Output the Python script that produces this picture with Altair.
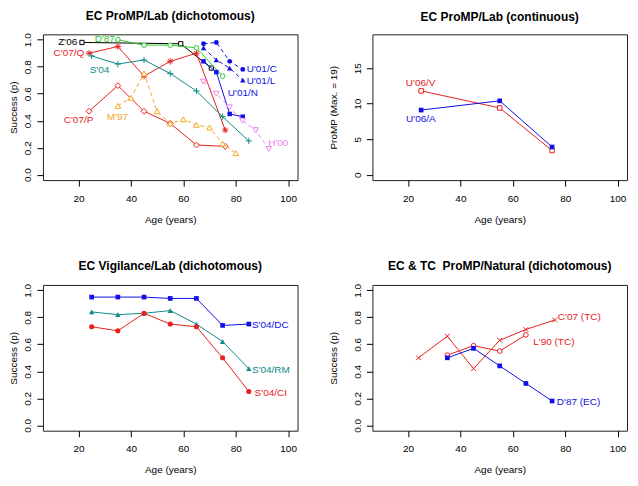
import altair as alt
import pandas as pd

FONT = "Liberation Sans"
RED = "#E8201E"
BLUE = "#1010E6"
GREEN = "#2ECC2E"
TEAL = "#108A8A"
ORANGE = "#F7A521"
VIOLET = "#EE82EE"
BLACK = "#000000"

PLUS = "M-1,0L1,0M0,-1L0,1"
CROSS = "M-0.8,-0.8L0.8,0.8M-0.8,0.8L0.8,-0.8"
STAR = "M-1,0L1,0M0,-1L0,1M-0.7,-0.7L0.7,0.7M-0.7,0.7L0.7,-0.7"

# ---------------- data ----------------
AGE_TICKS = [20, 40, 60, 80, 100]
P_TICKS = [0.0, 0.2, 0.4, 0.6, 0.8, 1.0]
PROMP_TICKS = [0, 5, 10, 15]

# Panel 1: EC ProMP/Lab (dichotomous)
z06_x = [21.3, 59, 70.7]
z06_y = [0.98, 0.97, 0.79]
d87_x = [35, 45, 55, 65, 75]
d87_y = [1.00, 0.96, 0.96, 0.94, 0.73]
c07q_x = [24, 35, 45, 55, 65, 76]
c07q_y = [0.90, 0.95, 0.73, 0.84, 0.90, 0.33]
s04_x = [25, 35, 45, 55, 65, 75, 85]
s04_y = [0.88, 0.82, 0.85, 0.75, 0.62, 0.43, 0.25]
c07p_x = [24, 35, 45, 55, 65, 76]
c07p_y = [0.47, 0.66, 0.47, 0.38, 0.22, 0.21]
m97_x = [35, 40, 45, 50, 55, 60, 65, 70, 75, 80]
m97_y = [0.51, 0.57, 0.75, 0.47, 0.38, 0.41, 0.37, 0.35, 0.23, 0.16]
u01_x = [67.7, 72.6, 77.7, 82.7]
u01c_y = [0.97, 0.98, 0.84, 0.78]
u01l_y = [0.94, 0.85, 0.79, 0.70]
u01n_y = [0.84, 0.76, 0.45, 0.43]
h00_x = [67.6, 72.6, 77.6, 82.6, 87.6, 92.6]
h00_y = [0.69, 0.60, 0.50, 0.40, 0.33, 0.19]

# Panel 2: EC ProMP/Lab (continuous)
u06_x = [25, 55, 75]
u06v_y = [11.8, 9.4, 3.4]
u06a_y = [9.1, 10.4, 3.9]

# Panel 3: EC Vigilance/Lab (dichotomous)
s04v_x = [25, 35, 45, 55, 65, 75, 85]
s04dc_y = [0.95, 0.95, 0.95, 0.94, 0.94, 0.74, 0.75]
s04rm_y = [0.84, 0.82, 0.83, 0.85, 0.75, 0.62, 0.42]
s04ci_y = [0.73, 0.70, 0.83, 0.75, 0.73, 0.50, 0.25]

# Panel 4: EC & TC ProMP/Natural (dichotomous)
c07tc_x = [24, 35, 45, 55, 65, 76]
c07tc_y = [0.50, 0.66, 0.42, 0.63, 0.71, 0.78]
l90_x = [35, 45, 55, 65]
l90_y = [0.52, 0.59, 0.55, 0.67]
d87ec_x = [35, 45, 55, 65, 75]
d87ec_y = [0.50, 0.57, 0.44, 0.31, 0.18]

# ---------------- helpers ----------------
W, H = 255, 146


def panel(series, labels, title, ytitle, ydomain, yticks, yfmt, ytitlepad):
    xenc = alt.X(
        "x:Q",
        scale=alt.Scale(domain=[6.4, 103.6], nice=False, zero=False),
        axis=alt.Axis(
            values=AGE_TICKS, tickSize=6, labelPadding=7, titlePadding=11,
            domain=False, grid=False, labelFontSize=10, titleFontSize=10,
            labelFont=FONT, titleFont=FONT, labelColor=BLACK, titleColor=BLACK,
            tickColor=BLACK, titleFontWeight="normal", labelFlush=False,
            labelOverlap=False,
        ),
        title="Age (years)",
    )
    yenc = alt.Y(
        "y:Q",
        scale=alt.Scale(domain=ydomain, nice=False, zero=False),
        axis=alt.Axis(
            values=yticks, format=yfmt, labelAngle=-90, labelAlign="center",
            labelBaseline="bottom", tickSize=6, labelPadding=4,
            titlePadding=ytitlepad, domain=False, grid=False,
            labelFontSize=10, titleFontSize=10, labelFont=FONT, titleFont=FONT,
            labelColor=BLACK, titleColor=BLACK, tickColor=BLACK,
            titleFontWeight="normal", labelFlush=False, labelOverlap=False,
        ),
        title=ytitle,
    )
    layers = []
    for s in series:
        df = pd.DataFrame({"x": s["x"], "y": s["y"]})
        lk = dict(color=s["color"], strokeWidth=1)
        if s.get("dash"):
            lk["strokeDash"] = [4, 3]
        layers.append(alt.Chart(df).mark_line(**lk).encode(x=xenc, y=yenc))
        pk = dict(shape=s["shape"], size=s["size"], strokeWidth=1, opacity=1)
        if s["fill"] == "solid":
            pk.update(filled=True, color=s["color"])
        elif s["fill"] == "open":
            pk.update(filled=True, fill="white", stroke=s["color"])
        else:
            pk.update(filled=False, color=s["color"])
        layers.append(alt.Chart(df).mark_point(**pk).encode(x=xenc, y=yenc))
    for text, lx, ly, align, color in labels:
        df = pd.DataFrame({"x": [lx], "y": [ly], "t": [text]})
        layers.append(
            alt.Chart(df)
            .mark_text(align=align, baseline="middle", color=color,
                       fontSize=10, font=FONT)
            .encode(x=xenc, y=yenc, text="t:N")
        )
    return alt.layer(*layers).properties(
        width=W, height=H,
        title=alt.TitleParams(title, fontSize=12, font=FONT, fontWeight="bold",
                              offset=10, anchor="middle", frame="group",
                              color=BLACK),
    )


def S(x, y, color, shape, fill, size, dash=False):
    return dict(x=x, y=y, color=color, shape=shape, fill=fill, size=size, dash=dash)


p1 = panel(
    [
        S(z06_x, z06_y, BLACK, "square", "open", 18),
        S(d87_x, d87_y, GREEN, "circle", "open", 22),
        S(c07q_x, c07q_y, RED, STAR, "none", 40),
        S(s04_x, s04_y, TEAL, PLUS, "none", 40),
        S(c07p_x, c07p_y, RED, "diamond", "open", 34),
        S(m97_x, m97_y, ORANGE, "triangle-up", "open", 32, dash=True),
        S(u01_x, u01c_y, BLUE, "circle", "solid", 24, dash=True),
        S(u01_x, u01l_y, BLUE, "triangle-up", "solid", 30, dash=True),
        S(u01_x, u01n_y, BLUE, "square", "solid", 20),
        S(h00_x, h00_y, VIOLET, "triangle-down", "open", 32, dash=True),
    ],
    [
        ("Z'06", 19.5, 0.985, "right", BLACK),
        ("D'87", 30, 1.005, "center", GREEN),
        ("C'07/Q", 22.2, 0.90, "right", RED),
        ("S'04", 28, 0.778, "center", TEAL),
        ("C'07/P", 20, 0.405, "center", RED),
        ("M'97", 34.8, 0.43, "center", ORANGE),
        ("U'01/C", 84.2, 0.785, "left", BLUE),
        ("U'01/L", 84.2, 0.694, "left", BLUE),
        ("U'01/N", 77, 0.602, "left", BLUE),
        ("H'00", 92.4, 0.236, "left", VIOLET),
    ],
    "EC ProMP/Lab (dichotomous)", "Success (p)", [-0.04, 1.04], P_TICKS, ".1f", 4,
)

p2 = panel(
    [
        S(u06_x, u06v_y, RED, "square", "open", 20),
        S(u06_x, u06a_y, BLUE, "square", "solid", 22),
    ],
    [
        ("U'06/V", 24.8, 12.85, "center", RED),
        ("U'06/A", 24.9, 7.8, "center", BLUE),
    ],
    "EC ProMP/Lab (continuous)", "ProMP (Max. = 19)", [-0.76, 19.76],
    PROMP_TICKS, "d", 14,
)

p3 = panel(
    [
        S(s04v_x, s04dc_y, BLUE, "square", "solid", 22),
        S(s04v_x, s04rm_y, TEAL, "triangle-up", "solid", 30),
        S(s04v_x, s04ci_y, RED, "circle", "solid", 26),
    ],
    [
        ("S'04/DC", 86.2, 0.745, "left", BLUE),
        ("S'04/RM", 86.2, 0.411, "left", TEAL),
        ("S'04/CI", 87.2, 0.236, "left", RED),
    ],
    "EC Vigilance/Lab (dichotomous)", "Success (p)", [-0.04, 1.04], P_TICKS, ".1f", 4,
)

p4 = panel(
    [
        S(c07tc_x, c07tc_y, RED, CROSS, "none", 34),
        S(l90_x, l90_y, RED, "circle", "open", 22),
        S(d87ec_x, d87ec_y, BLUE, "square", "solid", 22),
    ],
    [
        ("C'07 (TC)", 77.2, 0.80, "left", RED),
        ("L'90 (TC)", 67.8, 0.62, "left", RED),
        ("D'87 (EC)", 76.8, 0.171, "left", BLUE),
    ],
    "EC & TC\u00a0 ProMP/Natural (dichotomous)", "Success (p)", [-0.04, 1.04],
    P_TICKS, ".1f", 14,
)

chart = (
    alt.vconcat(
        alt.hconcat(p1, p2, spacing=29),
        alt.hconcat(p3, p4, spacing=29),
        spacing=34,
    )
    .properties(padding={"left": 0, "top": 0, "right": 2, "bottom": 2},
                background="white")
    .configure_view(stroke="#222222", strokeWidth=1)
)

chart.save("out.html", embed_options={"renderer": "svg", "actions": False})
